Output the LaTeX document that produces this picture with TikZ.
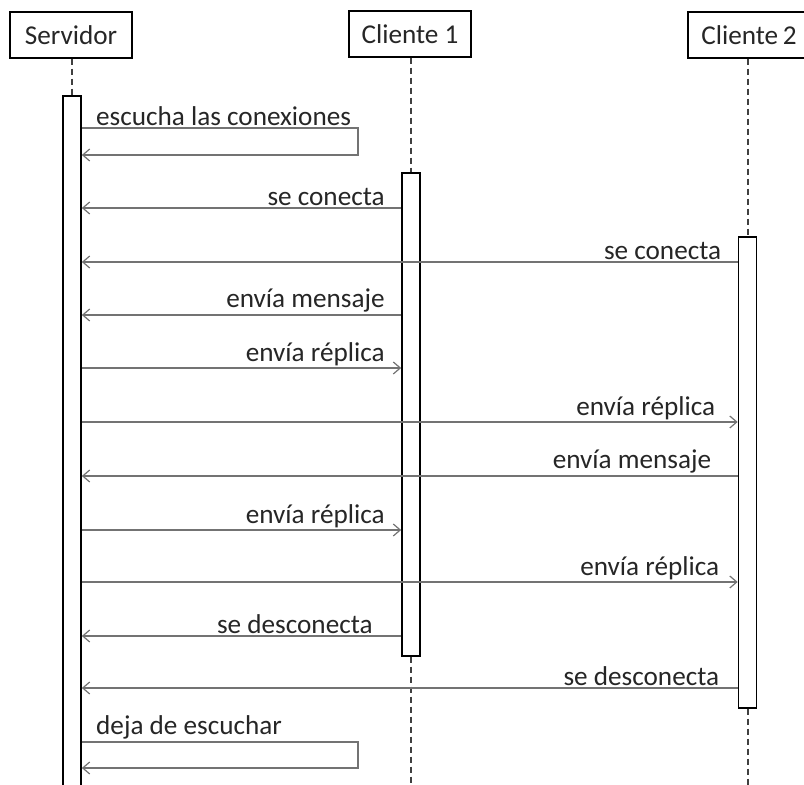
\documentclass[tikz,border=0pt]{standalone}
\usepackage{fontspec}
\setmainfont{Carlito}
\usepackage{tikz}
\usetikzlibrary{positioning,arrows.meta}

\begin{document}
\begin{tikzpicture}[
    x=0.5pt,y=-0.5pt,
    font=\fontsize{13.6}{15}\selectfont,
    text=black!85,
    actor/.style={draw,line width=0.7pt,minimum width=61pt,minimum height=23pt,inner sep=0pt},
    bar/.style={draw,line width=0.8pt,fill=white,minimum width=9pt,inner sep=0pt,anchor=north},
    life/.style={draw=black!75,line width=1pt,dash pattern=on 3pt off 2pt},
    msg/.style={draw=black!55,line width=0.6pt,-{Straight Barb[length=3.5pt,width=6pt]}},
    lbl/.style={anchor=south east,inner sep=1pt},
    slbl/.style={anchor=south west,inner sep=1pt}
  ]
    \clip (0,0) rectangle (804,785);
    \node[actor] (srv) at (71,35) {Servidor};
    \node[actor] (cl1) at (410,34) {Cliente 1};
    \node[actor] (cl2) at (749,35) {Cliente\,2};
    \node[bar,minimum height=352.5pt] (sbar) at (72,95) {};
    \node[bar,minimum height=241.5pt] (c1bar) at (411,172) {};
    \node[bar,minimum height=235.5pt] (c2bar) at (747.5,236) {};
    \draw[life] (srv.south -| sbar.north) -- (sbar.north);
    \draw[life] (cl1.south -| c1bar.north) -- (c1bar.north);
    \draw[life] (c1bar.south) -- ++(0,140);
    \draw[life] (cl2.south -| c2bar.north) -- (c2bar.north);
    \draw[life] (c2bar.south) -- ++(0,90);
    \draw[msg] (sbar.east |- 0,128) -- (358,128) -- (358,155) -- (sbar.east |- 0,155);
    \node[slbl] (m1) at (sbar.east |- 0,128) [xshift=6pt] {escucha las conexiones};
    \draw[msg] (c1bar.west |- 0,208) -- (sbar.east |- 0,208) node[lbl,pos=0] (m2) [xshift=-7pt] {se conecta};
    \draw[msg] (c2bar.west |- 0,262) -- (sbar.east |- 0,262) node[lbl,pos=0] (m3) [xshift=-7pt] {se conecta};
    \draw[msg] (c1bar.west |- 0,315) -- (sbar.east |- 0,315) node[lbl,pos=0] (m4) [xshift=-7pt] {envía mensaje};
    \draw[msg] (sbar.east |- 0,368) -- (c1bar.west |- 0,368) node[lbl,pos=1] (m5) [xshift=-7pt] {envía réplica};
    \draw[msg] (sbar.east |- 0,422) -- (c2bar.west |- 0,422) node[lbl,pos=1] (m6) [xshift=-10pt] {envía réplica};
    \draw[msg] (c2bar.west |- 0,476) -- (sbar.east |- 0,476) node[lbl,pos=0] (m7) [xshift=-12pt] {envía mensaje};
    \draw[msg] (sbar.east |- 0,530) -- (c1bar.west |- 0,530) node[lbl,pos=1] (m8) [xshift=-7pt] {envía réplica};
    \draw[msg] (sbar.east |- 0,582) -- (c2bar.west |- 0,582) node[lbl,pos=1] (m9) [xshift=-8pt] {envía réplica};
    \draw[msg] (c1bar.west |- 0,636) -- (sbar.east |- 0,636) node[lbl,pos=0] (m10) [xshift=-13pt] {se desconecta};
    \draw[msg] (c2bar.west |- 0,688) -- (sbar.east |- 0,688) node[lbl,pos=0] (m11) [xshift=-8pt] {se desconecta};
    \draw[msg] (sbar.east |- 0,742) -- (358,742) -- (358,768) -- (sbar.east |- 0,768);
    \node[slbl] (m12) at (sbar.east |- 0,742) [xshift=6pt] {deja de escuchar};
  \end{tikzpicture}
\end{document}
